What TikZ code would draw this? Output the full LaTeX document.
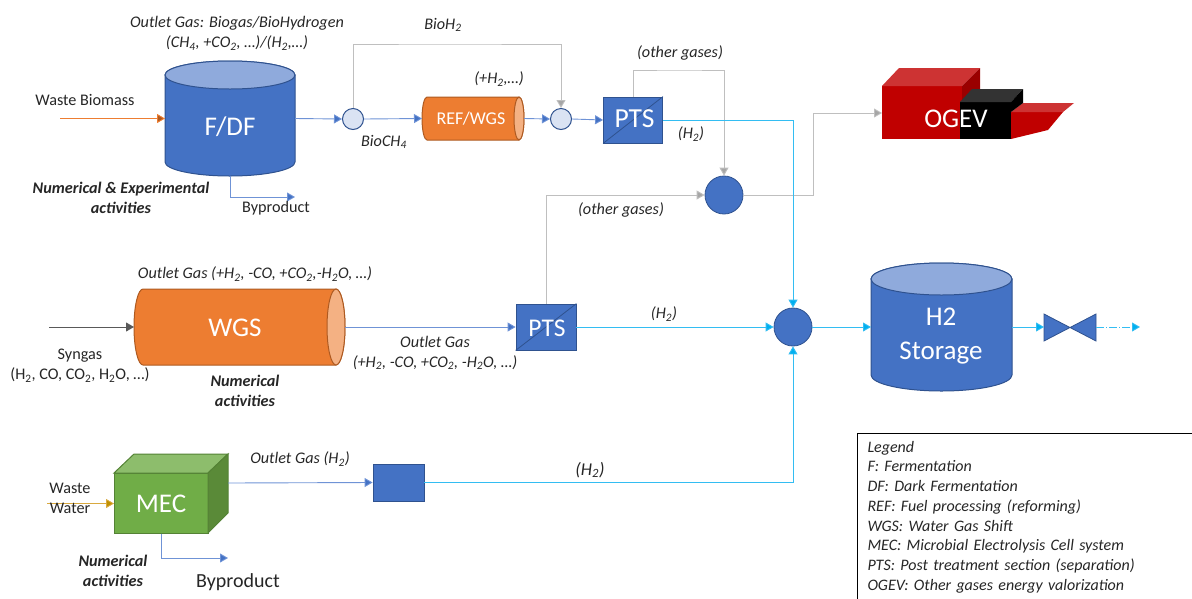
\documentclass[tikz,border=0pt]{standalone}
\usepackage{fontspec}
\setmainfont{Carlito}
\usetikzlibrary{arrows.meta}
\definecolor{bluef}{HTML}{4472C4}
\definecolor{blued}{HTML}{2F528F}
\definecolor{bluel}{HTML}{8FAADC}
\definecolor{bluepale}{HTML}{DAE3F3}
\definecolor{bluel2}{HTML}{6F93D6}
\definecolor{cyanl}{HTML}{33BDF2}
\definecolor{cyanh}{HTML}{00B0F0}
\definecolor{orf}{HTML}{ED7D31}
\definecolor{ord}{HTML}{AE5A21}
\definecolor{orl}{HTML}{F4B183}
\definecolor{ink}{HTML}{262626}
\definecolor{grayl}{HTML}{BFBFBF}
\definecolor{grayh}{HTML}{A6A6A6}
\definecolor{greenf}{HTML}{70AD47}
\definecolor{greend}{HTML}{548235}
\definecolor{greent}{HTML}{8DBD6C}
\definecolor{greens}{HTML}{5A8A38}
\definecolor{redf}{HTML}{C00000}
\definecolor{redt}{HTML}{CD3333}
\definecolor{reds}{HTML}{9A0000}
\definecolor{goldl}{HTML}{D9A93F}
\definecolor{goldd}{HTML}{BF9000}
\tikzset{
  x=1pt,y=-1pt,
  anchorbox/.style={rectangle,inner sep=0pt,outer sep=0pt},
  lab/.style={text=ink,inner sep=0pt,yshift=-0.8pt,font=\fontsize{16.2}{18}\selectfont,align=center},
  ilab/.style={lab,font=\fontsize{16.2}{18}\selectfont\itshape},
  blab/.style={lab,font=\fontsize{16.2}{18}\selectfont\itshape\bfseries},
  wlab/.style={text=white,inner sep=0pt,font=\fontsize{27}{31}\selectfont,align=center},
  flowb/.style={draw=bluel2,line width=0.9pt,-{Triangle[length=8pt,width=9pt,fill=bluef]}},
  flowc/.style={draw=cyanl,line width=0.9pt,-{Triangle[length=8pt,width=9pt,fill=cyanh]}},
  flowg/.style={draw=grayl,line width=0.9pt,-{Triangle[length=8pt,width=9pt,fill=grayh]}},
  smallc/.style={circle,draw=blued,line width=1pt,fill=bluepale,minimum size=21pt,inner sep=0pt},
  bigc/.style={circle,draw=blued,line width=0.8pt,fill=bluef,minimum size=38pt,inner sep=0pt},
  ptsbox/.style={rectangle,draw=blued,line width=0.8pt,fill=bluef,inner sep=0pt},
  shapeb/.style={draw=blued,line width=1pt,fill=bluef},
}
\begin{document}
\begin{tikzpicture}
\useasboundingbox (0,0) rectangle (1192,598);

% F/DF cylinder
\path[shapeb] (165,75) -- (165,162) arc[start angle=180,end angle=0,x radius=65,y radius=14] -- (295,75) arc[start angle=0,end angle=-180,x radius=65,y radius=14] -- cycle;
\path[draw=blued,line width=1pt,fill=bluel] (230,75) ellipse[x radius=65,y radius=14];
\node[anchorbox,minimum width=130pt,minimum height=115pt] (fdf) at (230,118.5) {};
\node[wlab] (fdflab) at (230,127) {F/DF};

% REF/WGS cylinder
\path[draw=ord,line width=1pt,fill=orf] (519,97) -- (427,97) arc[start angle=270,end angle=90,x radius=5,y radius=21.5] -- (519,140) arc[start angle=90,end angle=-90,x radius=5,y radius=21.5] -- cycle;
\path[draw=ord,line width=1pt,fill=orl] (519,118.5) ellipse[x radius=5,y radius=21.5];
\node[anchorbox,minimum width=102pt,minimum height=43pt] (ref) at (473,118.5) {};
\node[wlab,font=\fontsize{18}{22}\selectfont] (reflab) at (471,119) {REF/WGS};

% WGS cylinder
\path[draw=ord,line width=1pt,fill=orf] (336,289) -- (143,289) arc[start angle=270,end angle=90,x radius=9,y radius=38] -- (336,365) arc[start angle=90,end angle=-90,x radius=9,y radius=38] -- cycle;
\path[draw=ord,line width=1pt,fill=orl] (336,327) ellipse[x radius=9,y radius=38];
\node[anchorbox,minimum width=211pt,minimum height=76pt] (wgs) at (239.5,327) {};
\node[wlab] (wgslab) at (235,328) {WGS};

% H2 storage cylinder
\path[shapeb] (871,279) -- (871,375) arc[start angle=180,end angle=0,x radius=70.5,y radius=16] -- (1012,279) arc[start angle=0,end angle=-180,x radius=70.5,y radius=16] -- cycle;
\path[draw=blued,line width=1pt,fill=bluel] (941.5,279) ellipse[x radius=70.5,y radius=16];
\node[anchorbox,minimum width=141pt,minimum height=128pt] (stor) at (941.5,327) {};
\node[wlab,font=\fontsize{27}{34}\selectfont] (storlab) at (941,336) {H2\\Storage};

% MEC cube
\path[draw=greend,line width=1pt,fill=greenf] (114,473) rectangle (208,533);
\path[draw=greend,line width=1pt,fill=greent] (114,473) -- (134,454) -- (228,454) -- (208,473) -- cycle;
\path[draw=greend,line width=1pt,fill=greens] (208,473) -- (228,454) -- (228,513) -- (208,533) -- cycle;
\node[anchorbox,minimum width=94pt,minimum height=60pt] (mec) at (161,503.5) {};
\node[anchorbox,minimum width=114pt,minimum height=60pt] (mecout) at (171,483) {};
\node[wlab] (meclab) at (161,504) {MEC};

% OGEV
\fill[redf] (882,86) rectangle (962,139);
\fill[redt] (882,86) -- (899,68) -- (980,68) -- (962,86) -- cycle;
\fill[reds] (962,86) -- (980,68) -- (980,102) -- (962,115) -- cycle;
\fill[redf] (1011,112) -- (1063,112) -- (1048,130) -- (1011,139) -- cycle;
\fill[redt] (1011,112) -- (1023,103) -- (1074,103) -- (1063,112) -- cycle;
\fill[black] (960,102) rectangle (1011,139);
\fill[black!80] (960,102) -- (972,89) -- (1023,89) -- (1011,102) -- cycle;
\fill[black] (1011,102) -- (1023,89) -- (1023,103) -- (1011,112) -- cycle;
\node[anchorbox,minimum width=80pt,minimum height=53pt] (ogev) at (922,113) {};
\node[wlab] (ogevlab) at (956,119) {OGEV};

% small circles and junctions
\node[smallc] (c1) at (353,119) {};
\node[smallc] (c2) at (561,119) {};
\node[bigc] (c3) at (724,195) {};
\node[bigc] (c4) at (793,327) {};

% PTS boxes
\node[ptsbox,minimum width=59pt,minimum height=46pt] (pts1) at (633,120) {};
\draw[blued,line width=0.8pt] (pts1.south west) -- (pts1.north east);
\node[wlab,font=\fontsize{27.5}{31}\selectfont] (pts1lab) at (634.5,119) {PTS};
\node[ptsbox,minimum width=60pt,minimum height=46pt] (pts2) at (546,327) {};
\draw[blued,line width=0.8pt] (pts2.south west) -- (pts2.north east);
\node[wlab,font=\fontsize{25.5}{29}\selectfont] (pts2lab) at (547,328) {PTS};
\node[ptsbox,minimum width=51pt,minimum height=37pt] (sq) at (398.5,482.5) {};

% valve
\coordinate (vL) at (1044,327);
\coordinate (vR) at (1096,327);
\path[draw=blued,line width=0.8pt,fill=bluef] (1044,314) -- (1096,341) -- (1096,314) -- (1044,341) -- cycle;

% free ends
\coordinate (biomassin) at (60,118.5);
\coordinate (syngasin) at (49,327);
\coordinate (waterin) at (47,503.5);
\coordinate (valveout) at (1140,327);
\coordinate (byp1) at (295,197);
\coordinate (byp2) at (228,558);

% connectors
\draw[line width=0.9pt,draw=orf,-{Triangle[length=8pt,width=9pt,fill=ord]}] (biomassin) -- (fdf.west);
\draw[line width=0.9pt,draw=black!65,-{Triangle[length=8pt,width=9pt,fill=black!65]}] (syngasin) -- (wgs.west);
\draw[line width=0.9pt,draw=goldl,-{Triangle[length=8pt,width=9pt,fill=goldd]}] (waterin) -- (mec.west);
\draw[flowb] (fdf.south) |- (byp1);
\draw[flowb] (mec.south) |- (byp2);
\draw[flowb] (fdf.east) -- (c1.west);
\draw[flowb] (c1.east) -- (ref.west);
\draw[flowb] (ref.east) -- (c2.west);
\draw[flowb] (c2.east) -- (pts1.west);
\draw[flowb] (wgs.east) -- (pts2.west);
\draw[flowb] (mecout.east) -- (sq.west);
\draw[flowg] (c1.north) |- (443,44) -| (c2.north);
\draw[flowg] (pts1.north) |- (680,70) -| (c3.north);
\draw[flowg] (pts2.north) |- (c3.west);
\draw[flowg] (c3.east) -- (813,195) |- (ogev.west);
\draw[flowc] (pts1.east) -| (c4.north);
\draw[flowc] (pts2.east) -- (c4.west);
\draw[flowc] (sq.east) -| (c4.south);
\draw[flowc] (c4.east) -- (stor.west);
\draw[flowc] (stor.east) -- (vL);
\draw[flowc,dash pattern=on 8pt off 2pt on 1pt off 2pt] (vR) -- (valveout);

% labels
\node[ilab] (t1) at (237,22) {Outlet Gas: Biogas/BioHydrogen};
\node[ilab] (t2) at (237,42) {(CH\textsubscript{4}, +CO\textsubscript{2}, …)/(H\textsubscript{2},…)};
\node[lab] (t3) at (85,99) {Waste Biomass};
\node[ilab] (t4) at (443,24) {BioH\textsubscript{2}};
\node[ilab] (t5) at (680,52) {(other gases)};
\node[ilab] (t6) at (499,78) {(+H\textsubscript{2},…)};
\node[ilab] (t7) at (384,141) {BioCH\textsubscript{4}};
\node[ilab] (t8) at (691,133) {(H\textsubscript{2})};
\node[ilab] (t9) at (621,209) {(other gases)};
\node[blab] (t10) at (121,197) {Numerical \& Experimental\\[2pt]activities};
\node[lab] (t11) at (276,207) {Byproduct};
\node[ilab] (t12) at (255,273) {Outlet Gas (+H\textsubscript{2}, -CO, +CO\textsubscript{2},-H\textsubscript{2}O, …)};
\node[lab] (t13) at (80,365) {Syngas\\[2pt](H\textsubscript{2}, CO, CO\textsubscript{2}, H\textsubscript{2}O, …)};
\node[ilab] (t14) at (664,313) {(H\textsubscript{2})};
\node[ilab] (t15) at (435,352) {Outlet Gas\\[2pt](+H\textsubscript{2}, -CO, +CO\textsubscript{2}, -H\textsubscript{2}O, …)};
\node[blab] (t16) at (245,390) {Numerical\\[2pt]activities};
\node[ilab] (t17) at (300,458) {Outlet Gas (H\textsubscript{2})};
\node[ilab,font=\fontsize{18}{20}\selectfont\itshape] (t18) at (590,469) {(H\textsubscript{2})};
\node[lab] (t19) at (70,497.5) {Waste\\[2pt]Water};
\node[blab] (t20) at (113,570) {Numerical\\[2pt]activities};
\node[lab,font=\fontsize{20}{24}\selectfont] (t21) at (238,581) {Byproduct};

% legend
\node[draw=black,line width=1pt,fill=white,anchor=north west,minimum width=335pt,minimum height=167pt,inner xsep=10pt,inner ysep=7pt,text width=315pt,align=left,text=ink,font=\fontsize{16}{19.7}\selectfont\itshape] (legend) at (857,433) {Legend\\F: Fermentation\\DF: Dark Fermentation\\REF: Fuel processing (reforming)\\WGS: Water Gas Shift\\MEC: Microbial Electrolysis Cell system\\PTS: Post treatment section (separation)\\OGEV: Other gases energy valorization};
\end{tikzpicture}
\end{document}
